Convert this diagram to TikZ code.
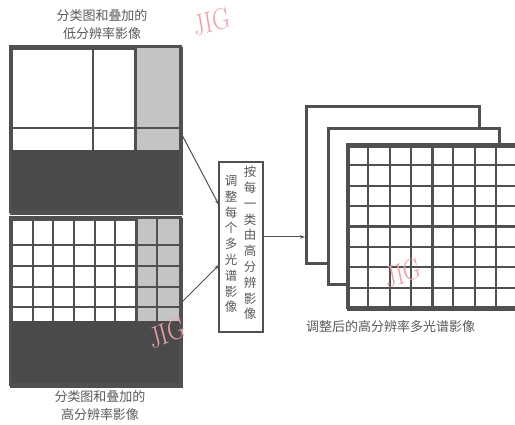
\documentclass[tikz,border=0pt]{standalone}
\usepackage{fontspec}
\newfontfamily\cjk{Noto Sans CJK SC}
\usetikzlibrary{arrows.meta}
\definecolor{ink}{HTML}{505050}
\definecolor{darkfill}{HTML}{4A4A4A}
\definecolor{lightfill}{HTML}{C4C4C4}
\definecolor{txt}{HTML}{5A5A5A}
\definecolor{wm}{HTML}{F2A0A8}
\tikzset{
  frame/.style={draw=ink, line width=3pt, fill=white, inner sep=0pt, anchor=north west},
  gridline/.style={draw=ink, line width=2pt},
  thickgrid/.style={draw=ink, line width=3pt},
  caption/.style={text=txt, font=\cjk\fontsize{13}{18}\selectfont, align=center, inner sep=0pt},
  vtext/.style={text=txt, font=\cjk\fontsize{12.5}{15.8}\selectfont, align=center, inner sep=0pt},
  conn/.style={draw=ink, line width=1pt, -{Stealth[length=5pt,width=3.5pt]}},
  mark wm/.style={text=wm, font=\fontsize{30}{30}\selectfont, inner sep=0pt, xscale=0.8}
}
\begin{document}
\begin{tikzpicture}[x=1pt, y=-1pt]
\useasboundingbox (0,0) rectangle (515,425);
\fill[white] (0,0) rectangle (515,425);

% ---------- top-left: low resolution image ----------
\node[frame, minimum width=170pt, minimum height=165pt] (lowres) at (10,47) {};
\fill[lightfill] (135,47) rectangle (180,150);
\fill[darkfill] (10,150) rectangle (180,212);
\draw[gridline] (93,47) -- (93,150);
\draw[thickgrid] (135,47) -- (135,150);
\draw[gridline] (10,128) -- (180,128);
\draw[draw=ink, line width=3pt] (10,47) rectangle (180,212);

% ---------- bottom-left: high resolution image ----------
\node[frame, minimum width=170pt, minimum height=167pt] (highres) at (10,218) {};
\fill[lightfill] (136,218) rectangle (180,321);
\fill[darkfill] (10,321) rectangle (180,385);
\foreach \xx in {33,53,74,95,115,157} \draw[gridline] (\xx,218) -- (\xx,321);
\draw[thickgrid] (136,218) -- (136,321);
\foreach \yy in {245,266,287,307} \draw[gridline] (10,\yy) -- (180,\yy);
\draw[draw=ink, line width=3pt] (10,218) rectangle (180,385);

% ---------- captions ----------
\node[caption] (cap1) at (102,25) {分类图和叠加的\\低分辨率影像};
\node[caption] (cap2) at (100,406) {分类图和叠加的\\高分辨率影像};

% ---------- middle box ----------
\node[draw=ink, line width=1.2pt, minimum width=44pt, minimum height=170pt, inner sep=0pt, fill=white] (box) at (241,247) {};
\node[vtext, anchor=north] (colR) at (250,166) {按\\每\\一\\类\\由\\高\\分\\辨\\影\\像};
\node[vtext, anchor=north] (colL) at (231,175) {调\\整\\每\\个\\多\\光\\谱\\影\\像};

% ---------- connectors ----------
\coordinate (o1) at (181,133);
\coordinate (o2) at (181,303);
\coordinate (i1) at (219,205);
\coordinate (i2) at (219,265);
\draw[conn] (o1) -- (i1);
\draw[conn] (o2) -- (i2);

% ---------- stack of images ----------
\node[frame, minimum width=173pt, minimum height=157pt] (back) at (305,105) {};
\node[frame, minimum width=171pt, minimum height=156pt] (mid) at (327,127) {};
\node[frame, minimum width=170pt, minimum height=163pt] (front) at (347,145) {};
\foreach \k in {1,2,3,5,6,7} {
  \draw[gridline] (347+21.25*\k,145) -- (347+21.25*\k,308);
  \draw[gridline] (347,145+20.4*\k) -- (517,145+20.4*\k);
}
\draw[thickgrid] (432,145) -- (432,308);
\draw[thickgrid] (347,226.6) -- (517,226.6);
\draw[draw=ink, line width=3pt] (347,145) rectangle (517,308);

\coordinate (bo) at (263,237);
\draw[conn] (bo) -- (bo -| back.west);

\node[caption, anchor=west] (cap3) at (306,327) {调整后的高分辨率多光谱影像};

% ---------- watermarks ----------
\node[mark wm, rotate=12] (wm1) at (212,22) {JIG};
\node[mark wm, rotate=18] (wm2) at (167,333) {JIG};
\node[mark wm, rotate=15] (wm3) at (403,273) {JIG};
\end{tikzpicture}
\end{document}
